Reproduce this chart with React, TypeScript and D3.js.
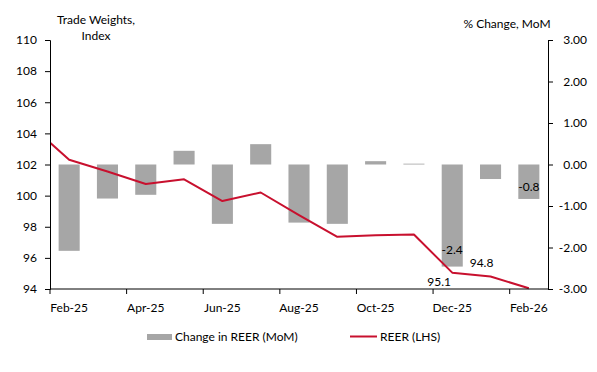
import React, { useEffect, useRef } from 'react'
import * as d3 from 'd3'

// months: Jan-25 is only used for the line's run-in from the left edge
const months = ['Jan-25', 'Feb-25', 'Mar-25', 'Apr-25', 'May-25', 'Jun-25', 'Jul-25', 'Aug-25', 'Sep-25', 'Oct-25', 'Nov-25', 'Dec-25', 'Jan-26', 'Feb-26']
const barMonths = months.slice(1)
const reer = [104.5, 102.3, 101.55, 100.75, 101.05, 99.65, 100.2, 98.75, 97.35, 97.45, 97.5, 95.05, 94.8, 94.05]
const reerChange = [-2.08, -0.82, -0.73, 0.33, -1.43, 0.49, -1.4, -1.43, 0.08, 0.02, -2.46, -0.35, -0.83]
const leftTicks = [94, 96, 98, 100, 102, 104, 106, 108, 110]
const rightTicks = [-3, -2, -1, 0, 1, 2, 3]
const tickLabels = ['Feb-25', 'Apr-25', 'Jun-25', 'Aug-25', 'Oct-25', 'Dec-25', 'Feb-26']
// data labels shown on the chart
const lineLabels = [{ m: 'Dec-25', v: 95.1, dx: -13, dy: 10 }, { m: 'Jan-26', v: 94.8, dx: -9, dy: -14 }]
const barLabels = [{ m: 'Dec-25', v: -2.4, dy: -14 }, { m: 'Feb-26', v: -0.8, dy: -11 }]

const RED = '#C8102E'
const GREY = '#A6A6A6'
const FONT = 'Lato, "Open Sans", sans-serif'

function Chart() {
  const ref = useRef<SVGSVGElement>(null)

  useEffect(() => {
    const svg = d3.select(ref.current)
    svg.selectAll('*').remove()

    const left = 50, right = 548, top = 40, bottom = 289
    const step = (right - left) / barMonths.length

    const x = d3.scaleBand().domain(months).range([left - step, right]).padding(0)
    const xc = (m: string) => (x(m) as number) + x.bandwidth() / 2
    const yL = d3.scaleLinear().domain([94, 110]).range([bottom, top])
    const yR = d3.scaleLinear().domain([-3, 3]).range([bottom, top])

    svg.append('defs').append('clipPath').attr('id', 'plotclip')
      .append('rect').attr('x', left).attr('y', top - 5).attr('width', right - left).attr('height', bottom - top + 10)

    // bars
    const bw = x.bandwidth() * 0.55
    svg.append('g').selectAll('rect')
      .data(reerChange)
      .enter()
      .append('rect')
      .attr('x', (d, i) => xc(barMonths[i]) - bw / 2)
      .attr('y', d => yR(Math.max(0, d)))
      .attr('width', bw)
      .attr('height', d => Math.abs(yR(d) - yR(0)))
      .attr('fill', GREY)

    // line
    const line = d3.line<number>()
      .x((d, i) => xc(months[i]))
      .y(d => yL(d))
    svg.append('path')
      .datum(reer)
      .attr('clip-path', 'url(#plotclip)')
      .attr('d', line)
      .attr('fill', 'none')
      .attr('stroke', RED)
      .attr('stroke-width', 2)
      .attr('stroke-linejoin', 'round')

    // left axis
    const axL = svg.append('g')
      .attr('transform', 'translate(' + left + ',0)')
      .call(d3.axisLeft(yL).tickValues(leftTicks).tickSize(5).tickPadding(8).tickFormat(d => String(d)))
    // right axis
    const axR = svg.append('g')
      .attr('transform', 'translate(' + right + ',0)')
      .call(d3.axisRight(yR).tickValues(rightTicks).tickSize(5).tickFormat(d => (d as number).toFixed(2)))
    axR.selectAll('text').attr('x', 39).attr('text-anchor', 'end')

    // bottom axis, ticks between category pairs
    const axB = svg.append('g')
    axB.append('line').attr('x1', left).attr('x2', right).attr('y1', bottom).attr('y2', bottom).attr('stroke', '#000')
    axB.selectAll('line.tk')
      .data(tickLabels)
      .enter()
      .append('line')
      .attr('class', 'tk')
      .attr('x1', d => x(d) as number)
      .attr('x2', d => x(d) as number)
      .attr('y1', bottom)
      .attr('y2', bottom + 5)
      .attr('stroke', '#000')
    axB.selectAll('text')
      .data(tickLabels)
      .enter()
      .append('text')
      .attr('x', d => xc(d))
      .attr('y', bottom + 23)
      .attr('text-anchor', 'middle')
      .text(d => d)

    for (const ax of [axL, axR]) {
      ax.select('.domain').attr('stroke', '#000')
      ax.selectAll('.tick line').attr('stroke', '#000')
    }
    svg.selectAll('text').attr('font-family', FONT).attr('font-size', 12).attr('fill', '#000')

    // data labels
    svg.append('g').selectAll('text')
      .data(lineLabels)
      .enter()
      .append('text')
      .attr('x', d => xc(d.m) + d.dx)
      .attr('y', d => yL(d.v) + d.dy)
      .attr('dy', '0.35em')
      .attr('text-anchor', 'middle')
      .attr('font-family', FONT)
      .attr('font-size', 12)
      .text(d => d.v.toFixed(1))
    svg.append('g').selectAll('text')
      .data(barLabels)
      .enter()
      .append('text')
      .attr('x', d => xc(d.m))
      .attr('y', d => yR(d.v) + d.dy)
      .attr('dy', '0.35em')
      .attr('text-anchor', 'middle')
      .attr('font-family', FONT)
      .attr('font-size', 12)
      .text(d => d.v.toFixed(1))

    // axis titles
    const t = svg.append('g').attr('font-family', FONT).attr('font-size', 12).attr('text-anchor', 'middle')
    t.append('text').attr('x', 96).attr('y', 24).text('Trade Weights,')
    t.append('text').attr('x', 96).attr('y', 40).text('Index')
    t.append('text').attr('x', 507).attr('y', 28).text('% Change, MoM')

    // legend
    const lg = svg.append('g').attr('font-family', FONT).attr('font-size', 12)
    lg.append('rect').attr('x', 147).attr('y', 334).attr('width', 25).attr('height', 6).attr('fill', GREY)
    lg.append('text').attr('x', 175).attr('y', 341).text('Change in REER (MoM)')
    lg.append('line').attr('x1', 350).attr('x2', 377).attr('y1', 336.5).attr('y2', 336.5).attr('stroke', RED).attr('stroke-width', 2)
    lg.append('text').attr('x', 380).attr('y', 341).text('REER (LHS)')
  }, [])

  return <svg ref={ref} width={597} height={372} style={{ display: 'block' }}></svg>
}

export default function App() {
  return (
    <div style={{ margin: -8 }}>
      <Chart />
    </div>
  )
}
